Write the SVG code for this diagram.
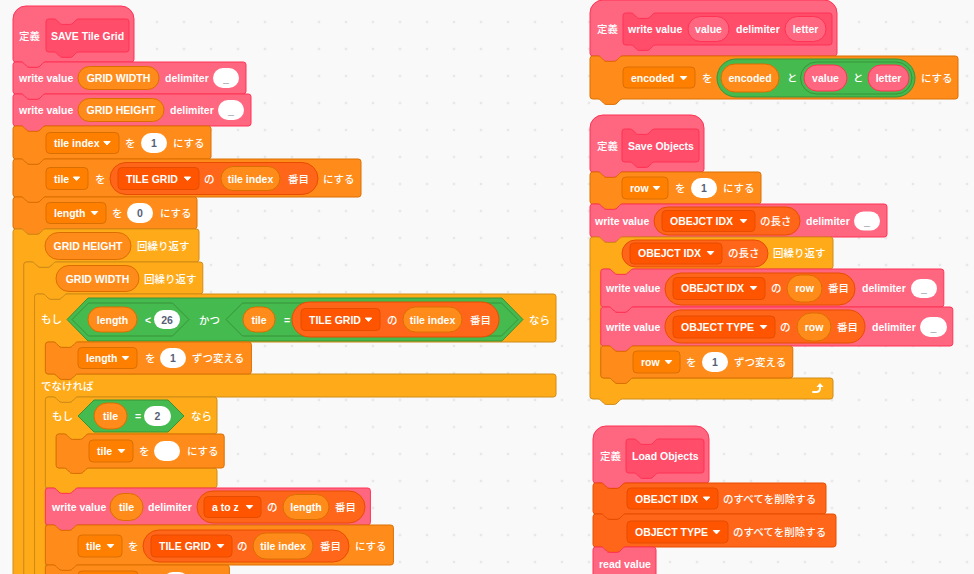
<svg xmlns="http://www.w3.org/2000/svg" width="974" height="574" viewBox="0 0 974 574">
<defs>
<pattern id="dots" patternUnits="userSpaceOnUse" x="8.5" y="8.5" width="27" height="27"><circle cx="13.5" cy="13.5" r="1" fill="#d6d6d6"/></pattern>
<path id="ar" d="M-3.2,-1.5h6.4l-3.2,3.4z" fill="#fff" stroke="#fff" stroke-width="1" stroke-linejoin="round"/>
</defs>
<style>
text{font-family:"Liberation Sans",Arial,sans-serif;font-size:10.5px;font-weight:bold;fill:#fff}
.j{font-family:"Noto Sans CJK JP","Liberation Sans",sans-serif;font-weight:500}
.m{text-anchor:middle}
.n{fill:#575E75}
.pk{fill:#FF6680;stroke:#FF3355}
.pp{fill:#FF4D6A;stroke:#FF3355}
.vr{fill:#FF8C1A;stroke:#DB6E00}
.ct{fill:#FFAB19;stroke:#CF8B17}
.op{fill:#45BA4F;stroke:#389438}
.ls{fill:#FF661A;stroke:#E64D00}
.dv{fill:#FF8000;stroke:#DB6E00}
.dl{fill:#FF5500;stroke:#E64D00}
.ag{fill:#FF6680;stroke:#FF3355}
.wh{fill:#fff}
</style>
<rect width="974" height="574" fill="#F9F9F9"/>
<rect width="974" height="574" fill="url(#dots)"/>

<g id="def-save-tile-grid">
<path class="pk" transform="translate(13,6)" d="M0,13a13,13 0 0 1 13,-13H108a13,13 0 0 1 13,13V53.3a2.7,2.7 0 0 1 -2.7,2.7H32.4c-1.35,0 -2,.7 -2.7,1.35l-2.7,2.7c-.7,.7 -1.35,1.35 -2.7,1.35h-8.1c-1.35,0 -2,-.7 -2.7,-1.35l-2.7,-2.7c-.7,-.7 -1.35,-1.35 -2.7,-1.35H2.7a2.7,2.7 0 0 1 -2.7,-2.7Z"/>
<path class="pp" transform="translate(46,19)" d="M0,2.7a2.7,2.7 0 0 1 2.7,-2.7H8.1c1.35,0 2,.7 2.7,1.35l2.7,2.7c.7,.7 1.35,1.35 2.7,1.35h8.1c1.35,0 2,-.7 2.7,-1.35l2.7,-2.7c.7,-.7 1.35,-1.35 2.7,-1.35H80.3a2.7,2.7 0 0 1 2.7,2.7V30.3a2.7,2.7 0 0 1 -2.7,2.7H32.4c-1.35,0 -2,.7 -2.7,1.35l-2.7,2.7c-.7,.7 -1.35,1.35 -2.7,1.35h-8.1c-1.35,0 -2,-.7 -2.7,-1.35l-2.7,-2.7c-.7,-.7 -1.35,-1.35 -2.7,-1.35H2.7a2.7,2.7 0 0 1 -2.7,-2.7Z"/>
<text class="j" x="19" y="40">定義</text>
<text x="51" y="40">SAVE Tile Grid</text>
</g>

<g id="write-grid-width">
<path class="pk" transform="translate(13,62)" d="M0,2.7a2.7,2.7 0 0 1 2.7,-2.7H8.1c1.35,0 2,.7 2.7,1.35l2.7,2.7c.7,.7 1.35,1.35 2.7,1.35h8.1c1.35,0 2,-.7 2.7,-1.35l2.7,-2.7c.7,-.7 1.35,-1.35 2.7,-1.35H230.3a2.7,2.7 0 0 1 2.7,2.7V29.3a2.7,2.7 0 0 1 -2.7,2.7H32.4c-1.35,0 -2,.7 -2.7,1.35l-2.7,2.7c-.7,.7 -1.35,1.35 -2.7,1.35h-8.1c-1.35,0 -2,-.7 -2.7,-1.35l-2.7,-2.7c-.7,-.7 -1.35,-1.35 -2.7,-1.35H2.7a2.7,2.7 0 0 1 -2.7,-2.7Z"/>
<text x="19" y="82">write value</text>
<rect class="vr" x="78" y="66.5" width="81" height="23" rx="11.5"/>
<text class="m" x="118.5" y="82">GRID WIDTH</text>
<text x="165" y="82">delimiter</text>
<rect class="wh" x="213" y="68" width="26" height="20" rx="10"/>
<text class="m n" x="226" y="82">_</text>
</g>

<g id="write-grid-height">
<path class="pk" transform="translate(13,94)" d="M0,2.7a2.7,2.7 0 0 1 2.7,-2.7H8.1c1.35,0 2,.7 2.7,1.35l2.7,2.7c.7,.7 1.35,1.35 2.7,1.35h8.1c1.35,0 2,-.7 2.7,-1.35l2.7,-2.7c.7,-.7 1.35,-1.35 2.7,-1.35H235.3a2.7,2.7 0 0 1 2.7,2.7V29.3a2.7,2.7 0 0 1 -2.7,2.7H32.4c-1.35,0 -2,.7 -2.7,1.35l-2.7,2.7c-.7,.7 -1.35,1.35 -2.7,1.35h-8.1c-1.35,0 -2,-.7 -2.7,-1.35l-2.7,-2.7c-.7,-.7 -1.35,-1.35 -2.7,-1.35H2.7a2.7,2.7 0 0 1 -2.7,-2.7Z"/>
<text x="19" y="114">write value</text>
<rect class="vr" x="78" y="98.5" width="86" height="23" rx="11.5"/>
<text class="m" x="121" y="114">GRID HEIGHT</text>
<text x="170" y="114">delimiter</text>
<rect class="wh" x="218" y="100" width="26" height="20" rx="10"/>
<text class="m n" x="231" y="114">_</text>
</g>

<g id="set-tile-index">
<path class="vr" transform="translate(13,126)" d="M0,2.7a2.7,2.7 0 0 1 2.7,-2.7H8.1c1.35,0 2,.7 2.7,1.35l2.7,2.7c.7,.7 1.35,1.35 2.7,1.35h8.1c1.35,0 2,-.7 2.7,-1.35l2.7,-2.7c.7,-.7 1.35,-1.35 2.7,-1.35H195.3a2.7,2.7 0 0 1 2.7,2.7V30.3a2.7,2.7 0 0 1 -2.7,2.7H32.4c-1.35,0 -2,.7 -2.7,1.35l-2.7,2.7c-.7,.7 -1.35,1.35 -2.7,1.35h-8.1c-1.35,0 -2,-.7 -2.7,-1.35l-2.7,-2.7c-.7,-.7 -1.35,-1.35 -2.7,-1.35H2.7a2.7,2.7 0 0 1 -2.7,-2.7Z"/>
<rect class="dv" x="46" y="132.5" width="73" height="21" rx="4"/>
<text x="54" y="147">tile index</text>
<use href="#ar" x="107" y="143"/>
<text class="j" x="125" y="147">を</text>
<rect class="wh" x="141" y="133" width="26" height="20" rx="10"/>
<text class="m n" x="154" y="147">1</text>
<text class="j" x="173" y="147">にする</text>
</g>

<g id="set-tile">
<path class="vr" transform="translate(13,159)" d="M0,2.7a2.7,2.7 0 0 1 2.7,-2.7H8.1c1.35,0 2,.7 2.7,1.35l2.7,2.7c.7,.7 1.35,1.35 2.7,1.35h8.1c1.35,0 2,-.7 2.7,-1.35l2.7,-2.7c.7,-.7 1.35,-1.35 2.7,-1.35H345.3a2.7,2.7 0 0 1 2.7,2.7V35.3a2.7,2.7 0 0 1 -2.7,2.7H32.4c-1.35,0 -2,.7 -2.7,1.35l-2.7,2.7c-.7,.7 -1.35,1.35 -2.7,1.35h-8.1c-1.35,0 -2,-.7 -2.7,-1.35l-2.7,-2.7c-.7,-.7 -1.35,-1.35 -2.7,-1.35H2.7a2.7,2.7 0 0 1 -2.7,-2.7Z"/>
<rect class="dv" x="46" y="167.5" width="42" height="22" rx="4"/>
<text x="54" y="182.5">tile</text>
<use href="#ar" x="76.5" y="178.5"/>
<text class="j" x="95" y="182.5">を</text>
<rect class="ls" x="110" y="162.5" width="208" height="32" rx="16"/>
<rect class="dl" x="118" y="167.5" width="81" height="22" rx="4"/>
<text x="126" y="182.5">TILE GRID</text>
<use href="#ar" x="187.5" y="178.5"/>
<text class="j" x="204" y="182.5">の</text>
<rect class="vr" x="221" y="166.5" width="59" height="24" rx="12"/>
<text class="m" x="250.5" y="182.5">tile index</text>
<text class="j" x="288" y="182.5">番目</text>
<text class="j" x="323" y="182.5">にする</text>
</g>

<g id="set-length">
<path class="vr" transform="translate(13,197)" d="M0,2.7a2.7,2.7 0 0 1 2.7,-2.7H8.1c1.35,0 2,.7 2.7,1.35l2.7,2.7c.7,.7 1.35,1.35 2.7,1.35h8.1c1.35,0 2,-.7 2.7,-1.35l2.7,-2.7c.7,-.7 1.35,-1.35 2.7,-1.35H181.3a2.7,2.7 0 0 1 2.7,2.7V29.3a2.7,2.7 0 0 1 -2.7,2.7H32.4c-1.35,0 -2,.7 -2.7,1.35l-2.7,2.7c-.7,.7 -1.35,1.35 -2.7,1.35h-8.1c-1.35,0 -2,-.7 -2.7,-1.35l-2.7,-2.7c-.7,-.7 -1.35,-1.35 -2.7,-1.35H2.7a2.7,2.7 0 0 1 -2.7,-2.7Z"/>
<rect class="dv" x="46" y="202.5" width="60" height="21" rx="4"/>
<text x="54" y="217">length</text>
<use href="#ar" x="94.5" y="213"/>
<text class="j" x="112" y="217">を</text>
<rect class="wh" x="127" y="203" width="26" height="20" rx="10"/>
<text class="m n" x="140" y="217">0</text>
<text class="j" x="160" y="217">にする</text>
</g>

<g id="repeat-grid-height">
<path class="ct" transform="translate(13,229)" d="M0,2.7a2.7,2.7 0 0 1 2.7,-2.7H8.1c1.35,0 2,.7 2.7,1.35l2.7,2.7c.7,.7 1.35,1.35 2.7,1.35h8.1c1.35,0 2,-.7 2.7,-1.35l2.7,-2.7c.7,-.7 1.35,-1.35 2.7,-1.35H183.3a2.7,2.7 0 0 1 2.7,2.7V30.3a2.7,2.7 0 0 1 -2.7,2.7H43.2c-1.35,0 -2,.7 -2.7,1.35l-2.7,2.7c-.7,.7 -1.35,1.35 -2.7,1.35h-8.1c-1.35,0 -2,-.7 -2.7,-1.35l-2.7,-2.7c-.7,-.7 -1.35,-1.35 -2.7,-1.35H13.5a2.7,2.7 0 0 0 -2.7,2.7V360H0Z"/>
<rect class="vr" x="45" y="232.5" width="86" height="27" rx="13.5"/>
<text class="m" x="88" y="250">GRID HEIGHT</text>
<text class="j" x="137" y="250">回繰り返す</text>
</g>

<g id="repeat-grid-width">
<path class="ct" transform="translate(23.8,262)" d="M0,2.7a2.7,2.7 0 0 1 2.7,-2.7H8.1c1.35,0 2,.7 2.7,1.35l2.7,2.7c.7,.7 1.35,1.35 2.7,1.35h8.1c1.35,0 2,-.7 2.7,-1.35l2.7,-2.7c.7,-.7 1.35,-1.35 2.7,-1.35H176.3a2.7,2.7 0 0 1 2.7,2.7V29.3a2.7,2.7 0 0 1 -2.7,2.7H43.2c-1.35,0 -2,.7 -2.7,1.35l-2.7,2.7c-.7,.7 -1.35,1.35 -2.7,1.35h-8.1c-1.35,0 -2,-.7 -2.7,-1.35l-2.7,-2.7c-.7,-.7 -1.35,-1.35 -2.7,-1.35H13.5a2.7,2.7 0 0 0 -2.7,2.7V330H0Z"/>
<rect class="vr" x="56" y="265.5" width="83" height="26" rx="13"/>
<text class="m" x="97.5" y="282.5">GRID WIDTH</text>
<text class="j" x="144" y="282.5">回繰り返す</text>
</g>

<g id="if-else">
<path class="ct" transform="translate(34.6,294)" d="M0,2.7a2.7,2.7 0 0 1 2.7,-2.7H8.1c1.35,0 2,.7 2.7,1.35l2.7,2.7c.7,.7 1.35,1.35 2.7,1.35h8.1c1.35,0 2,-.7 2.7,-1.35l2.7,-2.7c.7,-.7 1.35,-1.35 2.7,-1.35H518.7a2.7,2.7 0 0 1 2.7,2.7V45.3a2.7,2.7 0 0 1 -2.7,2.7H43.2c-1.35,0 -2,.7 -2.7,1.35l-2.7,2.7c-.7,.7 -1.35,1.35 -2.7,1.35h-8.1c-1.35,0 -2,-.7 -2.7,-1.35l-2.7,-2.7c-.7,-.7 -1.35,-1.35 -2.7,-1.35H13.5a2.7,2.7 0 0 0 -2.7,2.7V77.3a2.7,2.7 0 0 0 2.7,2.7H18.9c1.35,0 2,.7 2.7,1.35l2.7,2.7c.7,.7 1.35,1.35 2.7,1.35h8.1c1.35,0 2,-.7 2.7,-1.35l2.7,-2.7c.7,-.7 1.35,-1.35 2.7,-1.35H518.7a2.7,2.7 0 0 1 2.7,2.7V100.3a2.7,2.7 0 0 1 -2.7,2.7H43.2c-1.35,0 -2,.7 -2.7,1.35l-2.7,2.7c-.7,.7 -1.35,1.35 -2.7,1.35h-8.1c-1.35,0 -2,-.7 -2.7,-1.35l-2.7,-2.7c-.7,-.7 -1.35,-1.35 -2.7,-1.35H13.5a2.7,2.7 0 0 0 -2.7,2.7V300H0Z"/>
<text class="j" x="41" y="323">もし</text>
<polygon class="op" points="67,319.5 88,298 502,298 523,319.5 502,341 88,341"/>
<polygon class="op" points="72,319.5 88.5,303 172.5,303 189,319.5 172.5,336 88.5,336"/>
<rect class="vr" x="88" y="307" width="49" height="25" rx="12.5"/>
<text class="m" x="112.5" y="323.5">length</text>
<text x="145" y="323.5">&lt;</text>
<rect class="wh" x="154" y="310" width="26" height="19" rx="9.5"/>
<text class="m n" x="167" y="323.5">26</text>
<text class="j" x="199" y="323.5">かつ</text>
<polygon class="op" points="226,319.5 242.5,303 501.5,303 518,319.5 501.5,336 242.5,336"/>
<rect class="vr" x="243" y="307" width="32" height="25" rx="12.5"/>
<text class="m" x="259" y="323.5">tile</text>
<text x="284" y="323.5">=</text>
<rect class="ls" x="292" y="302" width="207" height="35" rx="17.5"/>
<rect class="dl" x="301" y="308.5" width="79" height="22" rx="4"/>
<text x="309" y="323.5">TILE GRID</text>
<use href="#ar" x="368.5" y="319.5"/>
<text class="j" x="387" y="323.5">の</text>
<rect class="vr" x="403" y="307" width="59" height="25" rx="12.5"/>
<text class="m" x="432.5" y="323.5">tile index</text>
<text class="j" x="470" y="323.5">番目</text>
<text class="j" x="529" y="323.5">なら</text>
<text class="j" x="41" y="390">でなければ</text>
</g>

<g id="change-length">
<path class="vr" transform="translate(45.4,342)" d="M0,2.7a2.7,2.7 0 0 1 2.7,-2.7H8.1c1.35,0 2,.7 2.7,1.35l2.7,2.7c.7,.7 1.35,1.35 2.7,1.35h8.1c1.35,0 2,-.7 2.7,-1.35l2.7,-2.7c.7,-.7 1.35,-1.35 2.7,-1.35H203.3a2.7,2.7 0 0 1 2.7,2.7V29.3a2.7,2.7 0 0 1 -2.7,2.7H32.4c-1.35,0 -2,.7 -2.7,1.35l-2.7,2.7c-.7,.7 -1.35,1.35 -2.7,1.35h-8.1c-1.35,0 -2,-.7 -2.7,-1.35l-2.7,-2.7c-.7,-.7 -1.35,-1.35 -2.7,-1.35H2.7a2.7,2.7 0 0 1 -2.7,-2.7Z"/>
<rect class="dv" x="78" y="347.5" width="59" height="21" rx="4"/>
<text x="86" y="362">length</text>
<use href="#ar" x="125.5" y="358"/>
<text class="j" x="145" y="362">を</text>
<rect class="wh" x="160" y="348" width="26" height="20" rx="10"/>
<text class="m n" x="173" y="362">1</text>
<text class="j" x="192" y="362">ずつ変える</text>
</g>

<g id="if-tile-2">
<path class="ct" transform="translate(45.4,397)" d="M0,2.7a2.7,2.7 0 0 1 2.7,-2.7H8.1c1.35,0 2,.7 2.7,1.35l2.7,2.7c.7,.7 1.35,1.35 2.7,1.35h8.1c1.35,0 2,-.7 2.7,-1.35l2.7,-2.7c.7,-.7 1.35,-1.35 2.7,-1.35H168.9a2.7,2.7 0 0 1 2.7,2.7V34.3a2.7,2.7 0 0 1 -2.7,2.7H43.2c-1.35,0 -2,.7 -2.7,1.35l-2.7,2.7c-.7,.7 -1.35,1.35 -2.7,1.35h-8.1c-1.35,0 -2,-.7 -2.7,-1.35l-2.7,-2.7c-.7,-.7 -1.35,-1.35 -2.7,-1.35H13.5a2.7,2.7 0 0 0 -2.7,2.7V68.3a2.7,2.7 0 0 0 2.7,2.7H18.9c1.35,0 2,.7 2.7,1.35l2.7,2.7c.7,.7 1.35,1.35 2.7,1.35h8.1c1.35,0 2,-.7 2.7,-1.35l2.7,-2.7c.7,-.7 1.35,-1.35 2.7,-1.35H168.9a2.7,2.7 0 0 1 2.7,2.7V88.3a2.7,2.7 0 0 1 -2.7,2.7H32.4c-1.35,0 -2,.7 -2.7,1.35l-2.7,2.7c-.7,.7 -1.35,1.35 -2.7,1.35h-8.1c-1.35,0 -2,-.7 -2.7,-1.35l-2.7,-2.7c-.7,-.7 -1.35,-1.35 -2.7,-1.35H2.7a2.7,2.7 0 0 1 -2.7,-2.7Z"/>
<text class="j" x="52" y="420">もし</text>
<polygon class="op" points="78,416 94,400 168,400 184,416 168,432 94,432"/>
<rect class="vr" x="94" y="403" width="33" height="26" rx="13"/>
<text class="m" x="110.5" y="420">tile</text>
<text x="135" y="420">=</text>
<rect class="wh" x="144" y="406" width="27" height="20" rx="10"/>
<text class="m n" x="157.5" y="420">2</text>
<text class="j" x="191" y="420">なら</text>
</g>

<g id="set-tile-empty">
<path class="vr" transform="translate(56.2,434)" d="M0,2.7a2.7,2.7 0 0 1 2.7,-2.7H8.1c1.35,0 2,.7 2.7,1.35l2.7,2.7c.7,.7 1.35,1.35 2.7,1.35h8.1c1.35,0 2,-.7 2.7,-1.35l2.7,-2.7c.7,-.7 1.35,-1.35 2.7,-1.35H165.3a2.7,2.7 0 0 1 2.7,2.7V31.3a2.7,2.7 0 0 1 -2.7,2.7H32.4c-1.35,0 -2,.7 -2.7,1.35l-2.7,2.7c-.7,.7 -1.35,1.35 -2.7,1.35h-8.1c-1.35,0 -2,-.7 -2.7,-1.35l-2.7,-2.7c-.7,-.7 -1.35,-1.35 -2.7,-1.35H2.7a2.7,2.7 0 0 1 -2.7,-2.7Z"/>
<rect class="dv" x="89" y="440" width="44" height="22" rx="4"/>
<text x="97" y="455">tile</text>
<use href="#ar" x="121.5" y="451"/>
<text class="j" x="139" y="455">を</text>
<rect class="wh" x="154" y="441" width="26" height="20" rx="10"/>
<text class="j" x="187" y="455">にする</text>
</g>

<g id="write-tile">
<path class="pk" transform="translate(45.4,488)" d="M0,2.7a2.7,2.7 0 0 1 2.7,-2.7H8.1c1.35,0 2,.7 2.7,1.35l2.7,2.7c.7,.7 1.35,1.35 2.7,1.35h8.1c1.35,0 2,-.7 2.7,-1.35l2.7,-2.7c.7,-.7 1.35,-1.35 2.7,-1.35H322.3a2.7,2.7 0 0 1 2.7,2.7V34.3a2.7,2.7 0 0 1 -2.7,2.7H32.4c-1.35,0 -2,.7 -2.7,1.35l-2.7,2.7c-.7,.7 -1.35,1.35 -2.7,1.35h-8.1c-1.35,0 -2,-.7 -2.7,-1.35l-2.7,-2.7c-.7,-.7 -1.35,-1.35 -2.7,-1.35H2.7a2.7,2.7 0 0 1 -2.7,-2.7Z"/>
<text x="52" y="511">write value</text>
<rect class="vr" x="110" y="493.5" width="33" height="27" rx="13.5"/>
<text class="m" x="126.5" y="511">tile</text>
<text x="148" y="511">delimiter</text>
<rect class="ls" x="197" y="491" width="168" height="32" rx="16"/>
<rect class="dl" x="204" y="496.5" width="57" height="21" rx="4"/>
<text x="212" y="511">a to z</text>
<use href="#ar" x="249.5" y="507"/>
<text class="j" x="267" y="511">の</text>
<rect class="vr" x="283" y="494.5" width="46" height="25" rx="12.5"/>
<text class="m" x="306" y="511">length</text>
<text class="j" x="335" y="511">番目</text>
</g>

<g id="set-tile-2">
<path class="vr" transform="translate(45.4,525)" d="M0,2.7a2.7,2.7 0 0 1 2.7,-2.7H8.1c1.35,0 2,.7 2.7,1.35l2.7,2.7c.7,.7 1.35,1.35 2.7,1.35h8.1c1.35,0 2,-.7 2.7,-1.35l2.7,-2.7c.7,-.7 1.35,-1.35 2.7,-1.35H345.3a2.7,2.7 0 0 1 2.7,2.7V37.3a2.7,2.7 0 0 1 -2.7,2.7H32.4c-1.35,0 -2,.7 -2.7,1.35l-2.7,2.7c-.7,.7 -1.35,1.35 -2.7,1.35h-8.1c-1.35,0 -2,-.7 -2.7,-1.35l-2.7,-2.7c-.7,-.7 -1.35,-1.35 -2.7,-1.35H2.7a2.7,2.7 0 0 1 -2.7,-2.7Z"/>
<rect class="dv" x="78" y="535" width="44" height="22" rx="4"/>
<text x="86" y="550">tile</text>
<use href="#ar" x="110.5" y="546"/>
<text class="j" x="128" y="550">を</text>
<rect class="ls" x="143" y="530" width="206" height="32" rx="16"/>
<rect class="dl" x="151" y="535" width="81" height="22" rx="4"/>
<text x="159" y="550">TILE GRID</text>
<use href="#ar" x="220.5" y="546"/>
<text class="j" x="237" y="550">の</text>
<rect class="vr" x="253" y="533" width="60" height="26" rx="13"/>
<text class="m" x="283" y="550">tile index</text>
<text class="j" x="320" y="550">番目</text>
<text class="j" x="355" y="550">にする</text>
</g>

<g id="next-block">
<path class="vr" transform="translate(45.4,565)" d="M0,2.7a2.7,2.7 0 0 1 2.7,-2.7H8.1c1.35,0 2,.7 2.7,1.35l2.7,2.7c.7,.7 1.35,1.35 2.7,1.35h8.1c1.35,0 2,-.7 2.7,-1.35l2.7,-2.7c.7,-.7 1.35,-1.35 2.7,-1.35H181.3a2.7,2.7 0 0 1 2.7,2.7V30.3a2.7,2.7 0 0 1 -2.7,2.7H2.7a2.7,2.7 0 0 1 -2.7,-2.7Z"/>
<rect class="dv" x="78" y="571" width="60" height="22" rx="4"/>
<rect class="wh" x="163" y="572" width="26" height="20" rx="10"/>
</g>

<g id="def-write-value">
<path class="pk" transform="translate(590,0)" d="M0,13a13,13 0 0 1 13,-13H234a13,13 0 0 1 13,13V53.3a2.7,2.7 0 0 1 -2.7,2.7H32.4c-1.35,0 -2,.7 -2.7,1.35l-2.7,2.7c-.7,.7 -1.35,1.35 -2.7,1.35h-8.1c-1.35,0 -2,-.7 -2.7,-1.35l-2.7,-2.7c-.7,-.7 -1.35,-1.35 -2.7,-1.35H2.7a2.7,2.7 0 0 1 -2.7,-2.7Z"/>
<path class="pp" transform="translate(623,13)" d="M0,2.7a2.7,2.7 0 0 1 2.7,-2.7H8.1c1.35,0 2,.7 2.7,1.35l2.7,2.7c.7,.7 1.35,1.35 2.7,1.35h8.1c1.35,0 2,-.7 2.7,-1.35l2.7,-2.7c.7,-.7 1.35,-1.35 2.7,-1.35H206.3a2.7,2.7 0 0 1 2.7,2.7V29.3a2.7,2.7 0 0 1 -2.7,2.7H32.4c-1.35,0 -2,.7 -2.7,1.35l-2.7,2.7c-.7,.7 -1.35,1.35 -2.7,1.35h-8.1c-1.35,0 -2,-.7 -2.7,-1.35l-2.7,-2.7c-.7,-.7 -1.35,-1.35 -2.7,-1.35H2.7a2.7,2.7 0 0 1 -2.7,-2.7Z"/>
<text class="j" x="597" y="33">定義</text>
<text x="628" y="33">write value</text>
<rect class="ag" x="688" y="16.5" width="41" height="25" rx="12.5"/>
<text class="m" x="708.5" y="33">value</text>
<text x="736" y="33">delimiter</text>
<rect class="ag" x="785" y="16.5" width="41" height="25" rx="12.5"/>
<text class="m" x="805.5" y="33">letter</text>
</g>

<g id="set-encoded">
<path class="vr" transform="translate(590,56)" d="M0,2.7a2.7,2.7 0 0 1 2.7,-2.7H8.1c1.35,0 2,.7 2.7,1.35l2.7,2.7c.7,.7 1.35,1.35 2.7,1.35h8.1c1.35,0 2,-.7 2.7,-1.35l2.7,-2.7c.7,-.7 1.35,-1.35 2.7,-1.35H365.3a2.7,2.7 0 0 1 2.7,2.7V40.3a2.7,2.7 0 0 1 -2.7,2.7H32.4c-1.35,0 -2,.7 -2.7,1.35l-2.7,2.7c-.7,.7 -1.35,1.35 -2.7,1.35h-8.1c-1.35,0 -2,-.7 -2.7,-1.35l-2.7,-2.7c-.7,-.7 -1.35,-1.35 -2.7,-1.35H2.7a2.7,2.7 0 0 1 -2.7,-2.7Z"/>
<rect class="dv" x="623" y="67" width="72" height="21" rx="4"/>
<text x="631" y="82">encoded</text>
<use href="#ar" x="683.5" y="78"/>
<text class="j" x="702" y="82">を</text>
<rect class="op" x="717" y="59" width="198" height="38" rx="19"/>
<rect class="vr" x="721" y="64" width="58" height="28" rx="14"/>
<text class="m" x="750" y="82">encoded</text>
<text class="j" x="787" y="82">と</text>
<rect class="op" x="800.5" y="62" width="111.5" height="32" rx="16"/>
<rect class="ag" x="804" y="65" width="43" height="26" rx="13"/>
<text class="m" x="825.5" y="82">value</text>
<text class="j" x="853" y="82">と</text>
<rect class="ag" x="868" y="65" width="41" height="26" rx="13"/>
<text class="m" x="888.5" y="82">letter</text>
<text class="j" x="921" y="82">にする</text>
</g>

<g id="def-save-objects">
<path class="pk" transform="translate(590,115)" d="M0,13a13,13 0 0 1 13,-13H101a13,13 0 0 1 13,13V54.3a2.7,2.7 0 0 1 -2.7,2.7H32.4c-1.35,0 -2,.7 -2.7,1.35l-2.7,2.7c-.7,.7 -1.35,1.35 -2.7,1.35h-8.1c-1.35,0 -2,-.7 -2.7,-1.35l-2.7,-2.7c-.7,-.7 -1.35,-1.35 -2.7,-1.35H2.7a2.7,2.7 0 0 1 -2.7,-2.7Z"/>
<path class="pp" transform="translate(622,129)" d="M0,2.7a2.7,2.7 0 0 1 2.7,-2.7H8.1c1.35,0 2,.7 2.7,1.35l2.7,2.7c.7,.7 1.35,1.35 2.7,1.35h8.1c1.35,0 2,-.7 2.7,-1.35l2.7,-2.7c.7,-.7 1.35,-1.35 2.7,-1.35H74.3a2.7,2.7 0 0 1 2.7,2.7V30.3a2.7,2.7 0 0 1 -2.7,2.7H32.4c-1.35,0 -2,.7 -2.7,1.35l-2.7,2.7c-.7,.7 -1.35,1.35 -2.7,1.35h-8.1c-1.35,0 -2,-.7 -2.7,-1.35l-2.7,-2.7c-.7,-.7 -1.35,-1.35 -2.7,-1.35H2.7a2.7,2.7 0 0 1 -2.7,-2.7Z"/>
<text class="j" x="597" y="150">定義</text>
<text x="628" y="150">Save Objects</text>
</g>

<g id="set-row">
<path class="vr" transform="translate(590,172)" d="M0,2.7a2.7,2.7 0 0 1 2.7,-2.7H8.1c1.35,0 2,.7 2.7,1.35l2.7,2.7c.7,.7 1.35,1.35 2.7,1.35h8.1c1.35,0 2,-.7 2.7,-1.35l2.7,-2.7c.7,-.7 1.35,-1.35 2.7,-1.35H168.3a2.7,2.7 0 0 1 2.7,2.7V29.3a2.7,2.7 0 0 1 -2.7,2.7H32.4c-1.35,0 -2,.7 -2.7,1.35l-2.7,2.7c-.7,.7 -1.35,1.35 -2.7,1.35h-8.1c-1.35,0 -2,-.7 -2.7,-1.35l-2.7,-2.7c-.7,-.7 -1.35,-1.35 -2.7,-1.35H2.7a2.7,2.7 0 0 1 -2.7,-2.7Z"/>
<rect class="dv" x="622" y="177" width="46" height="22" rx="4"/>
<text x="630" y="192">row</text>
<use href="#ar" x="656.5" y="188"/>
<text class="j" x="675" y="192">を</text>
<rect class="wh" x="691" y="178" width="26" height="20" rx="10"/>
<text class="m n" x="704" y="192">1</text>
<text class="j" x="723" y="192">にする</text>
</g>

<g id="write-objidx-length">
<path class="pk" transform="translate(590,204)" d="M0,2.7a2.7,2.7 0 0 1 2.7,-2.7H8.1c1.35,0 2,.7 2.7,1.35l2.7,2.7c.7,.7 1.35,1.35 2.7,1.35h8.1c1.35,0 2,-.7 2.7,-1.35l2.7,-2.7c.7,-.7 1.35,-1.35 2.7,-1.35H294.3a2.7,2.7 0 0 1 2.7,2.7V30.3a2.7,2.7 0 0 1 -2.7,2.7H32.4c-1.35,0 -2,.7 -2.7,1.35l-2.7,2.7c-.7,.7 -1.35,1.35 -2.7,1.35h-8.1c-1.35,0 -2,-.7 -2.7,-1.35l-2.7,-2.7c-.7,-.7 -1.35,-1.35 -2.7,-1.35H2.7a2.7,2.7 0 0 1 -2.7,-2.7Z"/>
<text x="595" y="225">write value</text>
<rect class="ls" x="654" y="207" width="146" height="28" rx="14"/>
<rect class="dl" x="662" y="210.5" width="93" height="21" rx="4"/>
<text x="670" y="225">OBEJCT IDX</text>
<use href="#ar" x="743.5" y="221"/>
<text class="j" x="760" y="225">の長さ</text>
<text x="806" y="225">delimiter</text>
<rect class="wh" x="854" y="211.5" width="26" height="19" rx="9.5"/>
<text class="m n" x="867" y="225">_</text>
</g>

<g id="repeat-objidx">
<path class="ct" transform="translate(590,237)" d="M0,2.7a2.7,2.7 0 0 1 2.7,-2.7H8.1c1.35,0 2,.7 2.7,1.35l2.7,2.7c.7,.7 1.35,1.35 2.7,1.35h8.1c1.35,0 2,-.7 2.7,-1.35l2.7,-2.7c.7,-.7 1.35,-1.35 2.7,-1.35H240.3a2.7,2.7 0 0 1 2.7,2.7V29.3a2.7,2.7 0 0 1 -2.7,2.7H43.2c-1.35,0 -2,.7 -2.7,1.35l-2.7,2.7c-.7,.7 -1.35,1.35 -2.7,1.35h-8.1c-1.35,0 -2,-.7 -2.7,-1.35l-2.7,-2.7c-.7,-.7 -1.35,-1.35 -2.7,-1.35H13.5a2.7,2.7 0 0 0 -2.7,2.7V138.3a2.7,2.7 0 0 0 2.7,2.7H18.9c1.35,0 2,.7 2.7,1.35l2.7,2.7c.7,.7 1.35,1.35 2.7,1.35h8.1c1.35,0 2,-.7 2.7,-1.35l2.7,-2.7c.7,-.7 1.35,-1.35 2.7,-1.35H240.3a2.7,2.7 0 0 1 2.7,2.7V159.3a2.7,2.7 0 0 1 -2.7,2.7H32.4c-1.35,0 -2,.7 -2.7,1.35l-2.7,2.7c-.7,.7 -1.35,1.35 -2.7,1.35h-8.1c-1.35,0 -2,-.7 -2.7,-1.35l-2.7,-2.7c-.7,-.7 -1.35,-1.35 -2.7,-1.35H2.7a2.7,2.7 0 0 1 -2.7,-2.7Z"/>
<rect class="ls" x="622" y="240" width="146" height="27" rx="13.5"/>
<rect class="dl" x="630" y="243" width="92" height="21" rx="4"/>
<text x="638" y="257">OBEJCT IDX</text>
<use href="#ar" x="710.5" y="253"/>
<text class="j" x="728" y="257">の長さ</text>
<text class="j" x="773" y="257">回繰り返す</text>
<path d="M813,392 h3.5 a3.5,3.5 0 0 0 3.5,-3.5 v-1.5" fill="none" stroke="#fff" stroke-width="2" stroke-linecap="round"/>
<path d="M816.5,387 l3.5,-4 l3.5,4 z" fill="#fff"/>
</g>

<g id="write-objidx-row">
<path class="pk" transform="translate(600.8,269)" d="M0,2.7a2.7,2.7 0 0 1 2.7,-2.7H8.1c1.35,0 2,.7 2.7,1.35l2.7,2.7c.7,.7 1.35,1.35 2.7,1.35h8.1c1.35,0 2,-.7 2.7,-1.35l2.7,-2.7c.7,-.7 1.35,-1.35 2.7,-1.35H340.3a2.7,2.7 0 0 1 2.7,2.7V35.3a2.7,2.7 0 0 1 -2.7,2.7H32.4c-1.35,0 -2,.7 -2.7,1.35l-2.7,2.7c-.7,.7 -1.35,1.35 -2.7,1.35h-8.1c-1.35,0 -2,-.7 -2.7,-1.35l-2.7,-2.7c-.7,-.7 -1.35,-1.35 -2.7,-1.35H2.7a2.7,2.7 0 0 1 -2.7,-2.7Z"/>
<text x="606" y="292">write value</text>
<rect class="ls" x="665" y="273" width="190" height="32" rx="16"/>
<rect class="dl" x="673" y="277.5" width="92" height="22" rx="4"/>
<text x="681" y="292">OBEJCT IDX</text>
<use href="#ar" x="753.5" y="288"/>
<text class="j" x="771" y="292">の</text>
<rect class="vr" x="787" y="275" width="35" height="27" rx="13.5"/>
<text class="m" x="804.5" y="292">row</text>
<text class="j" x="828" y="292">番目</text>
<text x="862" y="292">delimiter</text>
<rect class="wh" x="911" y="279" width="26" height="19" rx="9.5"/>
<text class="m n" x="924" y="292">_</text>
</g>

<g id="write-objtype-row">
<path class="pk" transform="translate(600.8,307)" d="M0,2.7a2.7,2.7 0 0 1 2.7,-2.7H8.1c1.35,0 2,.7 2.7,1.35l2.7,2.7c.7,.7 1.35,1.35 2.7,1.35h8.1c1.35,0 2,-.7 2.7,-1.35l2.7,-2.7c.7,-.7 1.35,-1.35 2.7,-1.35H349.3a2.7,2.7 0 0 1 2.7,2.7V36.3a2.7,2.7 0 0 1 -2.7,2.7H32.4c-1.35,0 -2,.7 -2.7,1.35l-2.7,2.7c-.7,.7 -1.35,1.35 -2.7,1.35h-8.1c-1.35,0 -2,-.7 -2.7,-1.35l-2.7,-2.7c-.7,-.7 -1.35,-1.35 -2.7,-1.35H2.7a2.7,2.7 0 0 1 -2.7,-2.7Z"/>
<text x="606" y="331">write value</text>
<rect class="ls" x="665" y="310" width="200" height="33" rx="16.5"/>
<rect class="dl" x="673" y="316" width="102" height="22" rx="4"/>
<text x="681" y="331">OBJECT TYPE</text>
<use href="#ar" x="763.5" y="327"/>
<text class="j" x="780" y="331">の</text>
<rect class="vr" x="797" y="313" width="34" height="28" rx="14"/>
<text class="m" x="814" y="331">row</text>
<text class="j" x="837" y="331">番目</text>
<text x="872" y="331">delimiter</text>
<rect class="wh" x="920" y="317" width="27" height="20" rx="10"/>
<text class="m n" x="933.5" y="331">_</text>
</g>

<g id="change-row">
<path class="vr" transform="translate(600.8,346)" d="M0,2.7a2.7,2.7 0 0 1 2.7,-2.7H8.1c1.35,0 2,.7 2.7,1.35l2.7,2.7c.7,.7 1.35,1.35 2.7,1.35h8.1c1.35,0 2,-.7 2.7,-1.35l2.7,-2.7c.7,-.7 1.35,-1.35 2.7,-1.35H189.3a2.7,2.7 0 0 1 2.7,2.7V29.3a2.7,2.7 0 0 1 -2.7,2.7H32.4c-1.35,0 -2,.7 -2.7,1.35l-2.7,2.7c-.7,.7 -1.35,1.35 -2.7,1.35h-8.1c-1.35,0 -2,-.7 -2.7,-1.35l-2.7,-2.7c-.7,-.7 -1.35,-1.35 -2.7,-1.35H2.7a2.7,2.7 0 0 1 -2.7,-2.7Z"/>
<rect class="dv" x="633" y="351" width="47" height="22" rx="4"/>
<text x="641" y="366">row</text>
<use href="#ar" x="668.5" y="362"/>
<text class="j" x="686" y="366">を</text>
<rect class="wh" x="702" y="352" width="26" height="20" rx="10"/>
<text class="m n" x="715" y="366">1</text>
<text class="j" x="734" y="366">ずつ変える</text>
</g>

<g id="def-load-objects">
<path class="pk" transform="translate(593,426)" d="M0,13a13,13 0 0 1 13,-13H103a13,13 0 0 1 13,13V54.3a2.7,2.7 0 0 1 -2.7,2.7H32.4c-1.35,0 -2,.7 -2.7,1.35l-2.7,2.7c-.7,.7 -1.35,1.35 -2.7,1.35h-8.1c-1.35,0 -2,-.7 -2.7,-1.35l-2.7,-2.7c-.7,-.7 -1.35,-1.35 -2.7,-1.35H2.7a2.7,2.7 0 0 1 -2.7,-2.7Z"/>
<path class="pp" transform="translate(626,439)" d="M0,2.7a2.7,2.7 0 0 1 2.7,-2.7H8.1c1.35,0 2,.7 2.7,1.35l2.7,2.7c.7,.7 1.35,1.35 2.7,1.35h8.1c1.35,0 2,-.7 2.7,-1.35l2.7,-2.7c.7,-.7 1.35,-1.35 2.7,-1.35H75.3a2.7,2.7 0 0 1 2.7,2.7V31.3a2.7,2.7 0 0 1 -2.7,2.7H32.4c-1.35,0 -2,.7 -2.7,1.35l-2.7,2.7c-.7,.7 -1.35,1.35 -2.7,1.35h-8.1c-1.35,0 -2,-.7 -2.7,-1.35l-2.7,-2.7c-.7,-.7 -1.35,-1.35 -2.7,-1.35H2.7a2.7,2.7 0 0 1 -2.7,-2.7Z"/>
<text class="j" x="600" y="460">定義</text>
<text x="632" y="460">Load Objects</text>
</g>

<g id="delete-all-objidx">
<path class="ls" transform="translate(593,483)" d="M0,2.7a2.7,2.7 0 0 1 2.7,-2.7H8.1c1.35,0 2,.7 2.7,1.35l2.7,2.7c.7,.7 1.35,1.35 2.7,1.35h8.1c1.35,0 2,-.7 2.7,-1.35l2.7,-2.7c.7,-.7 1.35,-1.35 2.7,-1.35H230.3a2.7,2.7 0 0 1 2.7,2.7V28.3a2.7,2.7 0 0 1 -2.7,2.7H32.4c-1.35,0 -2,.7 -2.7,1.35l-2.7,2.7c-.7,.7 -1.35,1.35 -2.7,1.35h-8.1c-1.35,0 -2,-.7 -2.7,-1.35l-2.7,-2.7c-.7,-.7 -1.35,-1.35 -2.7,-1.35H2.7a2.7,2.7 0 0 1 -2.7,-2.7Z"/>
<rect class="dl" x="627" y="488" width="91" height="21" rx="4"/>
<text x="635" y="502.5">OBEJCT IDX</text>
<use href="#ar" x="706.5" y="498.5"/>
<text class="j" x="723" y="502.5">のすべてを削除する</text>
</g>

<g id="delete-all-objtype">
<path class="ls" transform="translate(593,514)" d="M0,2.7a2.7,2.7 0 0 1 2.7,-2.7H8.1c1.35,0 2,.7 2.7,1.35l2.7,2.7c.7,.7 1.35,1.35 2.7,1.35h8.1c1.35,0 2,-.7 2.7,-1.35l2.7,-2.7c.7,-.7 1.35,-1.35 2.7,-1.35H240.3a2.7,2.7 0 0 1 2.7,2.7V30.3a2.7,2.7 0 0 1 -2.7,2.7H32.4c-1.35,0 -2,.7 -2.7,1.35l-2.7,2.7c-.7,.7 -1.35,1.35 -2.7,1.35h-8.1c-1.35,0 -2,-.7 -2.7,-1.35l-2.7,-2.7c-.7,-.7 -1.35,-1.35 -2.7,-1.35H2.7a2.7,2.7 0 0 1 -2.7,-2.7Z"/>
<rect class="dl" x="627" y="521" width="101" height="22" rx="4"/>
<text x="635" y="536">OBJECT TYPE</text>
<use href="#ar" x="716.5" y="532"/>
<text class="j" x="733" y="536">のすべてを削除する</text>
</g>

<g id="read-value">
<path class="pk" transform="translate(593,547)" d="M0,2.7a2.7,2.7 0 0 1 2.7,-2.7H8.1c1.35,0 2,.7 2.7,1.35l2.7,2.7c.7,.7 1.35,1.35 2.7,1.35h8.1c1.35,0 2,-.7 2.7,-1.35l2.7,-2.7c.7,-.7 1.35,-1.35 2.7,-1.35H60.3a2.7,2.7 0 0 1 2.7,2.7V37.3a2.7,2.7 0 0 1 -2.7,2.7H2.7a2.7,2.7 0 0 1 -2.7,-2.7Z"/>
<text x="599" y="568">read value</text>
</g>
</svg>
